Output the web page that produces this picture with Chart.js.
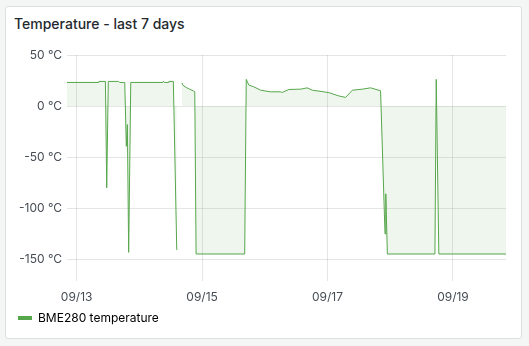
<!DOCTYPE html>
<html>
<head>
<meta charset="utf-8">
<title>Temperature - last 7 days</title>
<script src="https://cdn.jsdelivr.net/npm/chart.js@4/dist/chart.umd.min.js"></script>
<style>
  html, body { margin: 0; padding: 0; background: #f4f5f5; }
  body { width: 529px; height: 346px; position: relative; overflow: hidden; font-family: Inter, "Noto Sans", sans-serif; }
  .panel { position: absolute; left: 5px; top: 6px; width: 515px; height: 331px; background: #fff; border: 1px solid #dcdee0; border-radius: 3px; }
  .title { position: absolute; left: 14px; top: 15px; line-height: 17px; font-size: 14px; font-weight: 500; color: #24292e; }
  #chart { position: absolute; left: 0; top: 0; }
</style>
</head>
<body>
<div class="panel"></div>
<div class="title">Temperature - last 7 days</div>
<canvas id="chart" width="529" height="346"></canvas>
<script>
// hours since 09/13 00:00, null = gap in the series
const hours = [-3.7, 8.4, 8.5, 11.0, 11.5, 12.1, 16.0, 16.5, 18.4, 19.0, 19.4, 19.9, 20.7,
  33.0, 33.2, 33.6, 35.2, 35.3, 37.0, 38.3, 39.5, 40.3, 40.6, 41.9, 43.2, 44.8, 45.2, 45.7,
  64.3, 64.9, 65.9, 67.8, 70.4, 74.2, 78.0, 78.7, 81.2, 85.7, 88.2, 90.2, 94.6, 96.5,
  100.3, 102.9, 105.5, 109.3, 112.5, 116.3, 118.0, 118.3, 118.9, 137.1, 137.6, 138.6, 164.3];
const temps = [23.1, 23.1, 24.1, 24.1, -80.2, 24.1, 24.1, 23.1, 23.1, -39.5, -18.2, -143.5, 23.1,
  23.1, 24.3, 23.1, 23.1, 24.1, 24.1, -141.1, null, 22.7, 20.5, 18.2, 16.5, 14.6, 13.9, -145.1,
  -145.1, 26.1, 20.5, 18.8, 15.5, 13.9, 13.9, 13.3, 16.2, 16.5, 17.8, 15.5, 13.9, 13.1,
  9.9, 8.4, 15.5, 16.5, 17.8, 14.9, -125.4, -86.1, -145.1, -145.1, 26.1, -145.1, -145.1];

const tickHours = [0, 48, 96, 144];
const tickLabels = ['09/13', '09/15', '09/17', '09/19'];
const seriesName = 'BME280 temperature';

const green = '#56a64b';
const gridColor = 'rgba(0,0,0,0.1)';
const textColor = '#464c54';

const points = hours.map((h, i) => ({ x: h, y: temps[i] }));

new Chart(document.getElementById('chart'), {
  type: 'line',
  data: {
    datasets: [{
      label: seriesName,
      data: points,
      borderColor: green,
      borderWidth: 1,
      backgroundColor: 'rgba(86,166,75,0.1)',
      fill: 'origin',
      pointRadius: 0,
      tension: 0,
      spanGaps: false
    }]
  },
  options: {
    responsive: false,
    animation: false,
    devicePixelRatio: 1,
    layout: { padding: { left: 8, right: 23, top: 55, bottom: 12 } },
    scales: {
      x: {
        type: 'linear',
        min: -3.7,
        max: 164.3,
        afterBuildTicks: s => { s.ticks = tickHours.map(v => ({ value: v })); },
        afterFit: s => { s.height = 43; },
        grid: { color: gridColor, tickLength: 22, drawTicks: true },
        border: { display: false },
        ticks: {
          padding: 9,
          maxRotation: 0,
          color: textColor,
          font: { family: 'Inter', size: 12 },
          callback: (v, i) => tickLabels[i]
        }
      },
      y: {
        min: -150,
        max: 50,
        afterFit: s => { s.width = 59; },
        grid: { color: gridColor, drawTicks: false },
        border: { display: false },
        ticks: {
          stepSize: 50,
          padding: 5,
          color: textColor,
          font: { family: 'Inter', size: 12 },
          callback: v => v + ' °C'
        }
      }
    },
    plugins: {
      title: { display: false },
      tooltip: { enabled: false },
      legend: {
        position: 'bottom',
        align: 'start',
        labels: {
          boxWidth: 14,
          boxHeight: 4,
          useBorderRadius: true,
          borderRadius: 2,
          padding: 10,
          color: '#24292e',
          font: { family: 'Inter', size: 12 },
          generateLabels: () => [{
            text: seriesName,
            fillStyle: green,
            strokeStyle: green,
            lineWidth: 0,
            hidden: false,
            datasetIndex: 0
          }]
        }
      }
    }
  }
});
</script>
</body>
</html>
